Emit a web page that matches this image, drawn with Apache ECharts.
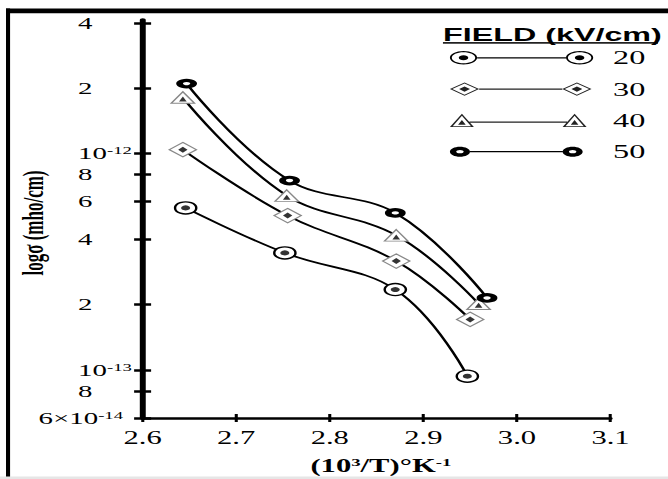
<!DOCTYPE html>
<html><head><meta charset="utf-8">
<script src="https://cdn.jsdelivr.net/npm/echarts@6/dist/echarts.min.js"></script>
<style>
html,body{margin:0;padding:0;background:#fff;overflow:hidden}
#wrap{width:668px;height:479px;overflow:hidden;position:relative;background:#fff}
#chart{width:393px;height:479px;transform:scaleX(1.69975);transform-origin:0 0;position:absolute;left:0;top:0}
</style></head>
<body><div id="wrap"><div id="chart"></div></div>
<script>
// ---- data ----
const seriesNames = ['20', '30', '40', '50'];
const x20 = [2.646, 2.752, 2.870, 2.947];
const y20 = [5.60e-13, 3.47e-13, 2.35e-13, 9.35e-14];
const x30 = [2.643, 2.755, 2.871, 2.950];
const y30 = [1.04e-12, 5.16e-13, 3.18e-13, 1.71e-13];
const x40 = [2.643, 2.754, 2.871, 2.959];
const y40 = [1.81e-12, 6.38e-13, 4.18e-13, 2.02e-13];
const x50 = [2.647, 2.757, 2.870, 2.968];
const y50 = [2.10e-12, 7.49e-13, 5.31e-13, 2.15e-13];
const xTicks = [2.6, 2.7, 2.8, 2.9, 3.0, 3.1];
const yTicks = [6e-14, 8e-14, 1e-13, 2e-13, 4e-13, 6e-13, 8e-13, 1e-12, 2e-12, 4e-12];
const yTickLabels = ['6×10^-14', '8', '10^-13', '2', '4', '6', '8', '10^-12', '2', '4'];
const legendTitle = 'FIELD (kV/cm)';
const xName = '(10{s|3}/T)°K{s|-1}';
const yName = 'logσ (mho/cm)';

const pairs = (xs, ys) => xs.map((x, i) => [x, ys[i]]);
const d20 = pairs(x20, y20), d30 = pairs(x30, y30), d40 = pairs(x40, y40), d50 = pairs(x50, y50);

// ---- legend icon paths ----
const f = v => (+v).toFixed(2);
function ell(cx, cy, rx, ry, cw) {
  const k = 0.5523;
  if (cw) {
    return `M${f(cx-rx)},${f(cy)}C${f(cx-rx)},${f(cy-k*ry)} ${f(cx-k*rx)},${f(cy-ry)} ${f(cx)},${f(cy-ry)}` +
      `C${f(cx+k*rx)},${f(cy-ry)} ${f(cx+rx)},${f(cy-k*ry)} ${f(cx+rx)},${f(cy)}` +
      `C${f(cx+rx)},${f(cy+k*ry)} ${f(cx+k*rx)},${f(cy+ry)} ${f(cx)},${f(cy+ry)}` +
      `C${f(cx-k*rx)},${f(cy+ry)} ${f(cx-rx)},${f(cy+k*ry)} ${f(cx-rx)},${f(cy)}Z`;
  }
  return `M${f(cx-rx)},${f(cy)}C${f(cx-rx)},${f(cy+k*ry)} ${f(cx-k*rx)},${f(cy+ry)} ${f(cx)},${f(cy+ry)}` +
    `C${f(cx+k*rx)},${f(cy+ry)} ${f(cx+rx)},${f(cy+k*ry)} ${f(cx+rx)},${f(cy)}` +
    `C${f(cx+rx)},${f(cy-k*ry)} ${f(cx+k*rx)},${f(cy-ry)} ${f(cx)},${f(cy-ry)}` +
    `C${f(cx-k*rx)},${f(cy-ry)} ${f(cx-rx)},${f(cy-k*ry)} ${f(cx-rx)},${f(cy)}Z`;
}
function poly(pts) { return 'M' + pts.map(p => f(p[0]) + ',' + f(p[1])).join('L') + 'Z'; }
function rect(x1, y1, x2, y2) { return poly([[x1, y1], [x2, y1], [x2, y2], [x1, y2]]); }
const anchor = 'M0,0L0.01,0M91,14L90.99,14';
function ring20(cx) { return ell(cx, 7, 8, 6.7, 1) + ell(cx, 7, 6.9, 5.5, 0) + ell(cx, 7, 2.8, 2.5, 1); }
function dia(cx, hw, hh, cw) {
  const p = [[cx - hw, 7], [cx, 7 - hh], [cx + hw, 7], [cx, 7 + hh]];
  return poly(cw ? p : p.reverse());
}
function dia30(cx) { return dia(cx, 8.6, 6.7, 1) + dia(cx, 7.2, 5.7, 0) + dia(cx, 3.2, 2.6, 1); }
function tri40(x0) {
  return poly([[x0, 13.65], [x0 + 7.05, 0.35], [x0 + 14.1, 13.65]]) +
    poly([[x0 + 1.66, 12.75], [x0 + 12.44, 12.75], [x0 + 7.05, 2.3]]) +
    poly([[x0 + 4.8, 11.4], [x0 + 7.05, 6.6], [x0 + 9.3, 11.4]]);
}
function ring50(cx) { return ell(cx, 7, 5.9, 5, 1) + ell(cx, 7, 2.2, 1.6, 0); }
const icons = [
  'path://' + anchor + ring20(8) + ring20(76.3) + rect(16, 6.4, 68.3, 7.6),
  'path://' + anchor + dia30(8.6) + dia30(74.7) + rect(17.2, 6.4, 66.1, 7.6),
  'path://' + anchor + tri40(0) + tri40(66.3) + rect(11.5, 8.1, 68.9, 9.3),
  'path://' + anchor + ring50(5.9) + ring50(72.2) + rect(11.8, 6.4, 66.3, 7.6)
];
const iconColors = ['#000', '#222', '#222', '#000'];

// ---- chart ----
const serif = "'Liberation Serif', 'Times New Roman', serif";
const sans = "'Liberation Sans', Arial, sans-serif";

function yLabel(v) {
  let best = 0, bd = Infinity;
  yTicks.forEach((t, i) => { const dd = Math.abs(Math.log10(t) - Math.log10(v)); if (dd < bd) { bd = dd; best = i; } });
  const lab = yTickLabels[best];
  if (lab.indexOf('^') < 0) return '{d|' + lab + '}';
  const parts = lab.split('^');
  return '{b|' + parts[0] + '}{' + (parts[0].length > 2 ? 'q' : 's') + '|' + parts[1] + '}';
}

const yMin = 5.995e-14, yMax = 4.13e-12;
const lineBase = {
  type: 'line', smooth: 0.4, showSymbol: true, showAllSymbol: true,
  lineStyle: { color: '#000', width: 1.7 },
  emphasis: { disabled: true }, animation: false, z: 2
};

const option = {
  backgroundColor: '#fff',
  animation: false,
  grid: { left: 83.9, right: 33.8, top: 20, bottom: 61, containLabel: false, outerBoundsMode: 'none' },
  title: {
    text: legendTitle, left: 260.6, top: 25.5, padding: 0,
    textStyle: { fontFamily: sans, fontWeight: 'bold', fontSize: 19, color: '#000' }
  },
  legend: {
    orient: 'vertical', left: 264.7, top: 48.3, padding: 0,
    itemWidth: 91, itemHeight: 14, itemGap: 12.3, selectedMode: false,
    textStyle: { fontFamily: serif, fontSize: 19, color: '#000', lineHeight: 14 },
    data: seriesNames.map((n, i) => ({ name: n, icon: icons[i], itemStyle: { color: iconColors[i], borderWidth: 0 } }))
  },
  xAxis: [{
    type: 'value', min: xTicks[0], max: xTicks[xTicks.length - 1], interval: 0.1,
    name: xName, nameLocation: 'middle', nameGap: 38.5, nameMoveOverlap: false,
    nameTextStyle: {
      fontFamily: serif, fontWeight: 'bold', fontSize: 18, color: '#000', padding: [0, 0, 0, 5],
      rich: { s: { fontFamily: serif, fontWeight: 'bold', fontSize: 11, verticalAlign: 'top', color: '#000' } }
    },
    axisLine: { show: true, lineStyle: { color: '#000', width: 2.5 } },
    axisTick: { show: true, inside: false, length: 4, lineStyle: { color: '#000', width: 1.8 } },
    axisLabel: { margin: 10.5, fontFamily: serif, fontSize: 18, color: '#000', formatter: v => v.toFixed(1) },
    splitLine: { show: false }
  }, {
    type: 'value', position: 'bottom', min: xTicks[0], max: xTicks[xTicks.length - 1], interval: 0.1,
    axisLine: { show: false }, axisLabel: { show: false },
    axisTick: { show: true, inside: true, length: 4, lineStyle: { color: '#000', width: 1.8 } },
    splitLine: { show: false }
  }],
  yAxis: [{
    type: 'log', logBase: 10, min: yMin, max: yMax, position: 'left',
    name: yName, nameLocation: 'middle', nameGap: 56, nameMoveOverlap: false,
    nameTextStyle: { fontFamily: serif, fontWeight: 'bold', fontSize: 17, color: '#000', padding: [0, 8, 0, 0] },
    axisLine: { show: true, lineStyle: { color: '#000', width: 3.5 } },
    axisTick: { show: true, inside: false, length: 5, customValues: yTicks, lineStyle: { color: '#000', width: 2.5 } },
    axisLabel: {
      customValues: yTicks, formatter: yLabel, align: 'right', margin: 6.3,
      fontFamily: serif, fontSize: 17, color: '#000',
      rich: {
        d: { width: 31.7, align: 'left', fontFamily: serif, fontSize: 17, color: '#000' },
        b: { fontFamily: serif, fontSize: 17, color: '#000' },
        s: { fontFamily: serif, fontSize: 11, color: '#000', verticalAlign: 'top' },
        q: { fontFamily: serif, fontSize: 11, color: '#000', verticalAlign: 'top', padding: [0, 5.2, 0, 0] }
      }
    },
    splitLine: { show: false }, minorTick: { show: false }
  }, {
    type: 'log', logBase: 10, min: yMin, max: yMax, position: 'left',
    axisLine: { show: false }, axisLabel: { show: false },
    axisTick: { show: true, inside: true, length: 5, customValues: yTicks, lineStyle: { color: '#000', width: 2.5 } },
    splitLine: { show: false }
  }],
  graphic: [
    { type: 'rect', shape: { x: 3.53, y: 8.5, width: 2.4, height: 470.5 }, style: { fill: '#000' }, silent: true },
    { type: 'rect', shape: { x: 3.53, y: 8.5, width: 390, height: 4.7 }, style: { fill: '#000' }, silent: true },
    { type: 'rect', shape: { x: 0, y: 476.5, width: 393, height: 2.5 }, style: { fill: '#e6e6e6' }, silent: true },
    { type: 'rect', shape: { x: 260.6, y: 42, width: 126.5, height: 1.8 }, style: { fill: '#222' }, silent: true }
  ],
  series: [
    Object.assign({}, lineBase, { name: seriesNames[0], data: d20, symbol: 'circle', symbolSize: [12.5, 12],
      itemStyle: { color: '#fff', borderColor: '#000', borderWidth: 1.4 } }),
    Object.assign({}, lineBase, { name: seriesNames[1], data: d30, symbol: 'diamond', symbolSize: [16, 14.5],
      itemStyle: { color: '#fff', borderColor: '#888', borderWidth: 1 } }),
    Object.assign({}, lineBase, { name: seriesNames[2], data: d40, symbol: 'triangle', symbolSize: [13.7, 11.5],
      itemStyle: { color: '#fff', borderColor: '#888', borderWidth: 1 } }),
    Object.assign({}, lineBase, { name: seriesNames[3], data: d50, symbol: 'circle', symbolSize: [8.3, 6.5],
      itemStyle: { color: '#fff', borderColor: '#000', borderWidth: 3.5 } }),
    { type: 'scatter', name: 'dot20', data: d20, symbol: 'circle', symbolSize: [5.3, 5], itemStyle: { color: '#000' }, silent: true, z: 5, animation: false },
    { type: 'scatter', name: 'dot30', data: d30, symbol: 'diamond', symbolSize: [5.5, 6], itemStyle: { color: '#000' }, silent: true, z: 5, animation: false },
    { type: 'scatter', name: 'dot40', data: d40, symbol: 'triangle', symbolSize: [4.5, 5], symbolOffset: [0, 1.5], itemStyle: { color: '#000' }, silent: true, z: 5, animation: false }
  ]
};
const chart = echarts.init(document.getElementById('chart'), null, { renderer: 'svg', width: 393, height: 479 });
chart.setOption(option);
</script>
</body></html>
